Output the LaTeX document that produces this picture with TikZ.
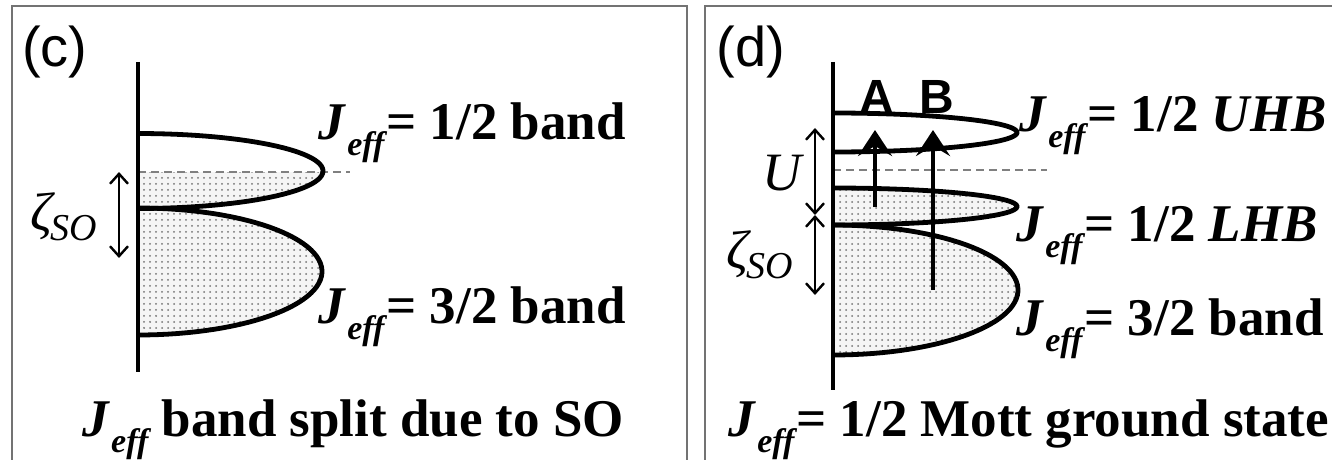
\documentclass[tikz,border=0pt]{standalone}
\usepackage{fontspec}
\setmainfont{Liberation Serif}
\setsansfont{Liberation Sans}
\usetikzlibrary{arrows.meta,patterns}
\tikzset{every picture/.style={line width=0.75pt}}

\newcommand{\Jeff}{\textbf{\textit{J}}\kern0.3pt\raisebox{-8pt}{\fontsize{17}{17}\selectfont\bfseries\itshape eff}}
\newcommand{\zso}{{\itshape ζ\kern-1pt\raisebox{-5pt}{\fontsize{19}{19}\selectfont SO}}}
\newcommand{\bandcurve}[4]{plot[domain=-90:90, samples=60] ({#1+#3*cos(\x)},{#2+#4*sin(\x)})}

\begin{document}
\begin{tikzpicture}[x=0.5pt, y=-0.5pt, font=\fontsize{27}{30}\selectfont,
    eixo/.style={line width=2.2pt},
    banda/.style={line width=2.4pt},
    nivel/.style={dash pattern=on 4pt off 2.5pt, black!50, line width=1.4pt},
    pontos/.style={preaction={fill=black!4}, pattern=dots, pattern color=black!55},
    duplo/.style={{Straight Barb[length=5pt,width=9pt]}-{Straight Barb[length=5pt,width=9pt]}, line width=1.2pt},
    trans/.style={-{Stealth[length=13pt,width=17pt,inset=5pt]}, line width=2.4pt},
    painel/.style={draw=black!55, line width=1.2pt},
    rotulo/.style={anchor=base west, inner sep=0pt, font=\fontsize{26.5}{30}\selectfont\bfseries}]
    \useasboundingbox (0,0) rectangle (1332,460);
    \clip (0,0) rectangle (1332,460);
    % molduras dos dois painéis
    \draw[painel] (12,6) rectangle (687,480);
    \draw[painel] (705,6) rectangle (1350,480);

    % painel (c): bandas separadas pelo SO
    \node[font=\sffamily\fontsize{28}{30}\selectfont, inner sep=0pt] (lc) at (55,52) {(c)};
    \begin{scope}
        \clip (138,172) rectangle (400,215);
        \fill[pontos] \bandcurve{138}{171}{185}{37.5} -- cycle;
    \end{scope}
    \fill[pontos] \bandcurve{138}{271.5}{184}{63.5} -- cycle;
    \coordinate (efc0) at (138,172);
    \coordinate (efc1) at (350,172);
    \draw[nivel] (efc0) -- (efc1);
    \draw[banda] \bandcurve{138}{171}{185}{37.5};
    \draw[banda] \bandcurve{138}{271.5}{184}{63.5};
    \coordinate (eixoc0) at (138,62);
    \coordinate (eixoc1) at (138,372);
    \draw[eixo] (eixoc0) -- (eixoc1);
    \coordinate (zc0) at (119,172);
    \coordinate (zc1) at (119,258);
    \draw[duplo] (zc0) -- (zc1);
    \node[anchor=base west, inner sep=0pt] (zsoc) at (30,230) {\zso};
    \node[rotulo] (j12c) at (318,140) {\Jeff\kern1pt= 1/2 band};
    \node[rotulo] (j32c) at (318,323) {\Jeff\kern1pt= 3/2 band};
    \node[rotulo] (titc) at (82,436) {\Jeff\ band split due to SO};

    % painel (d): estado fundamental de Mott
    \node[font=\sffamily\fontsize{28}{30}\selectfont, inner sep=0pt] (ld) at (751,52) {(d)};
    \fill[pontos] \bandcurve{833}{206.5}{184}{18.5} -- cycle;
    \fill[pontos] \bandcurve{833}{290}{185}{65} -- cycle;
    \coordinate (efd0) at (833,170);
    \coordinate (efd1) at (1047,170);
    \draw[nivel] (efd0) -- (efd1);
    \draw[banda] \bandcurve{833}{132.5}{184}{19.5};
    \draw[banda] \bandcurve{833}{206.5}{184}{18.5};
    \draw[banda] \bandcurve{833}{290}{185}{65};
    \coordinate (eixod0) at (833,62);
    \coordinate (eixod1) at (833,390);
    \draw[eixo] (eixod0) -- (eixod1);
    % transições A e B
    \coordinate (a0) at (875,207);
    \coordinate (a1) at (875,130);
    \coordinate (b0) at (933,290);
    \coordinate (b1) at (933,130);
    \draw[trans] (a0) -- (a1);
    \draw[trans] (b0) -- (b1);
    \node[font=\sffamily\bfseries\fontsize{24}{26}\selectfont, inner sep=0pt] (la) at (877,97) {A};
    \node[font=\sffamily\bfseries\fontsize{24}{26}\selectfont, inner sep=0pt] (lb) at (937,97) {B};
    % U e zeta_SO
    \coordinate (u0) at (815,128);
    \coordinate (u1) at (815,215);
    \coordinate (u2) at (815,295);
    \draw[duplo] (u0) -- (u1);
    \draw[duplo] (u1) -- (u2);
    \node[anchor=base west, inner sep=0pt] (lu) at (762,190) {\itshape U};
    \node[anchor=base west, inner sep=0pt] (zsod) at (726,268) {\zso};
    \node[rotulo] (uhb) at (1019,132) {\Jeff\kern1pt= 1/2 \textit{UHB}};
    \node[rotulo] (lhb) at (1016,241) {\Jeff\kern1pt= 1/2 \textit{LHB}};
    \node[rotulo] (j32d) at (1016,335) {\Jeff\kern1pt= 3/2 band};
    \node[rotulo] (titd) at (728,436) {\Jeff\kern1pt= 1/2 Mott ground state};
\end{tikzpicture}
\end{document}
